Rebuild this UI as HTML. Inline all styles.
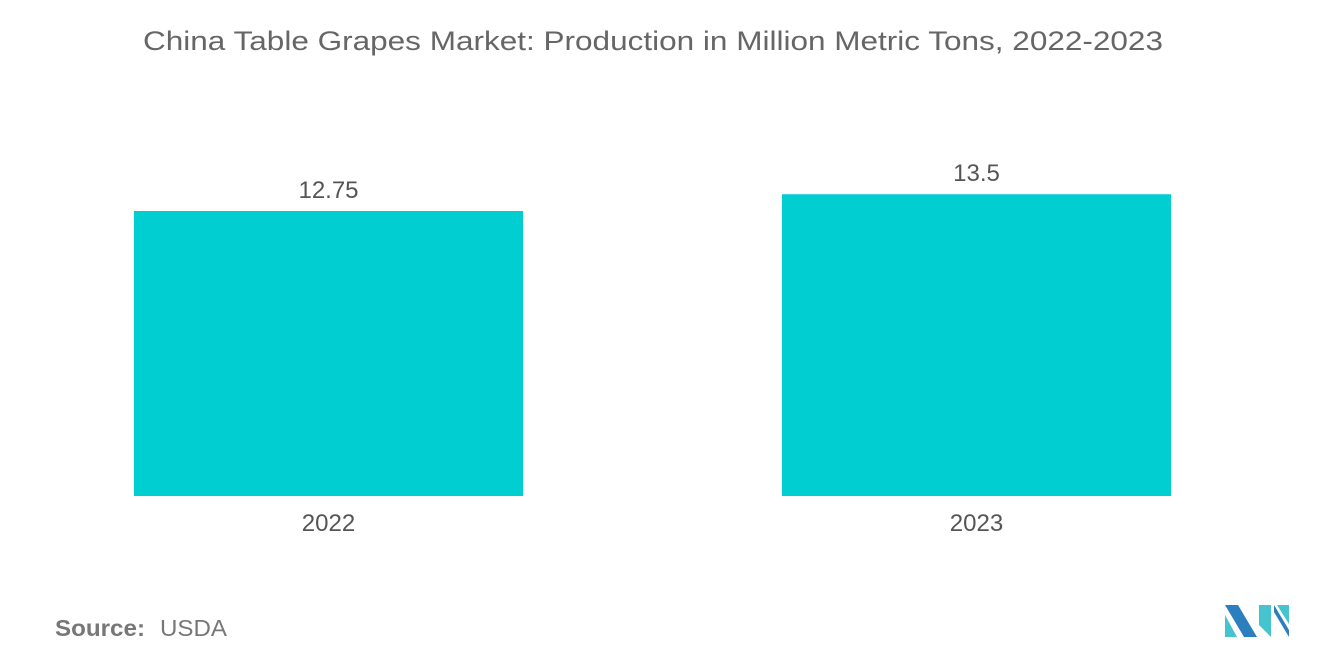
<!DOCTYPE html>
<html><head><meta charset="utf-8"><style>
body{margin:0;width:1320px;height:665px;background:#fff;font-family:"Liberation Sans",sans-serif;overflow:hidden}
</style></head><body>
<svg width="1320" height="665">
<text x="143" y="50" textLength="1020" lengthAdjust="spacingAndGlyphs" font-size="27" fill="#666">China Table Grapes Market: Production in Million Metric Tons, 2022-2023</text>
<g id="bars"></g>
<text x="55" y="636" textLength="90" lengthAdjust="spacingAndGlyphs" font-size="23" fill="#777" font-weight="bold">Source:</text>
<text x="160" y="636" textLength="67" lengthAdjust="spacingAndGlyphs" font-size="23" fill="#777">USDA</text>
<g>
<polygon points="1225,605 1238,605 1257,637 1244,637" fill="#2b7fbf"/>
<polygon points="1225,615 1237,637 1225,637" fill="#45c4d0"/>
<polygon points="1259,605 1271,605 1271,637 1259,625" fill="#45c4d0"/>
<polygon points="1274,605 1289,630 1289,637 1274,612" fill="#2b7fbf"/>
<polygon points="1277,605 1289,605 1289,624" fill="#45c4d0"/>
</g>
</svg>
<script>
const categories=["2022","2023"];
const values=[12.75,13.5];
const labels=["12.75","13.5"];
const g=document.getElementById('bars');
const NS="http://www.w3.org/2000/svg";
const y0=496, scale=285/12.75;
const xs=i=>134+i*648, bw=389;
const y=v=>y0-v*scale;
categories.forEach((c,i)=>{
 const r=document.createElementNS(NS,'rect');
 r.setAttribute('x',xs(i));r.setAttribute('y',y(values[i]));r.setAttribute('width',bw);r.setAttribute('height',y0-y(values[i]));r.setAttribute('fill','#00ced1');
 
 
 g.appendChild(r);
 const t=document.createElementNS(NS,'text');
 t.setAttribute('x',xs(i)+bw/2);t.setAttribute('y',y(values[i])-13);t.setAttribute('text-anchor','middle');t.setAttribute('font-size','24');t.setAttribute('fill','#555');
 t.textContent=labels[i];
 
 
 g.appendChild(t);
 const a=document.createElementNS(NS,'text');
 a.setAttribute('x',xs(i)+bw/2);a.setAttribute('y',531);a.setAttribute('text-anchor','middle');a.setAttribute('font-size','24');a.setAttribute('fill','#555');
 a.textContent=c;
 
 
 g.appendChild(a);
});
</script>
</body></html>
